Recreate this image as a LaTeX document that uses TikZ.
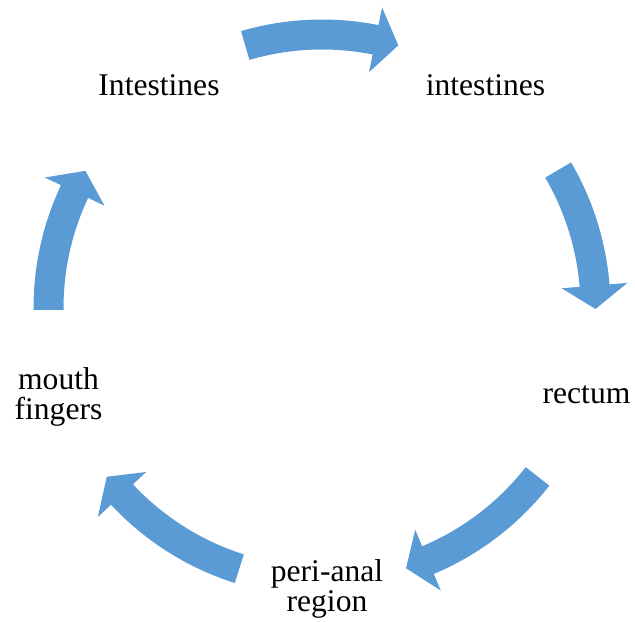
\documentclass[tikz,border=0pt]{standalone}
\usepackage{fontspec}
\setmainfont{Liberation Serif}
\definecolor{arrowblue}{HTML}{5B9BD5}
\tikzset{
  lbl/.style={font=\fontsize{23.7}{22.3}\selectfont, align=center, inner sep=0pt},
  cyclearrow/.style={fill=arrowblue, draw=none}
}
% #1 start angle, #2 barb angle
\newcommand{\cycarrow}[2]{%
  \fill[cyclearrow, shift={(ctr)}]
    (#1:288.5) arc[start angle=#1, end angle=#2, radius=288.5]
    -- (#2:306.5) -- ({#2-4.9}:273.5) -- (#2:240.5) -- (#2:258.5)
    arc[start angle=#2, end angle=#1, radius=258.5] -- cycle;}
\begin{document}
\begin{tikzpicture}[x=0.75pt,y=0.75pt]
\useasboundingbox (0,0) rectangle (635,621);
\coordinate (ctr) at (322,313);
\cycarrow{106.3}{78.7}
\cycarrow{30.3}{4.7}
\cycarrow{-38}{-67.2}
\cycarrow{-107.6}{-137}
\cycarrow{180.4}{154.8}
\node[lbl, anchor=base] (n1) at (159,525) {Intestines};
\node[lbl, anchor=base] (n2) at (485.5,525) {intestines};
\node[lbl, anchor=base] (n3) at (586.5,217) {rectum};
\node[lbl] (n4) at (327,32) {peri-anal\\region};
\node[lbl] (n5) at (58.5,224) {mouth\\fingers};
\end{tikzpicture}
\end{document}
